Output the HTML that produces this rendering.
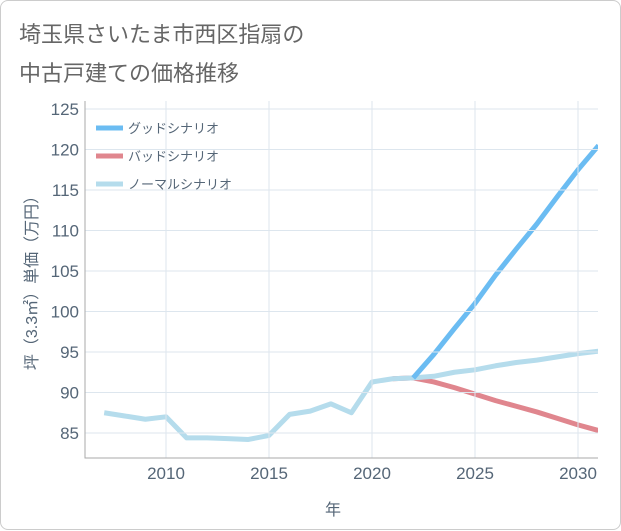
<!DOCTYPE html>
<html><head><meta charset="utf-8"><style>
body{margin:0;background:#fff;font-family:"Liberation Sans","Noto Sans CJK JP",sans-serif}
#card{position:absolute;left:0;top:0;width:619px;height:528px;border:1px solid #ccc;border-radius:8px;background:#fff}
#title{position:absolute;left:18px;top:14px;font-size:22px;line-height:39px;color:#666}
</style></head><body>
<div id="card">
<div id="title">埼玉県さいたま市西区指扇の<br>中古戸建ての価格推移</div>
<svg id="chart" width="621" height="530" style="position:absolute;left:0;top:0"></svg>
</div>
<script>
const years=[2007,2008,2009,2010,2011,2012,2013,2014,2015,2016,2017,2018,2019,2020,2021,2022,2023,2024,2025,2026,2027,2028,2029,2030,2031];
const normal=[87.5,87.1,86.7,87.0,84.4,84.4,84.3,84.2,84.7,87.3,87.7,88.6,87.5,91.3,91.7,91.8,92.0,92.5,92.8,93.3,93.7,94.0,94.4,94.8,95.1];
const goodYears=[2022,2023,2024,2025,2026,2027,2028,2029,2030,2031];
const good=[91.8,94.7,97.9,101.0,104.5,107.7,110.8,114.2,117.5,120.5];
const badYears=[2021,2022,2023,2024,2025,2026,2027,2028,2029,2030,2031];
const bad=[91.7,91.8,91.3,90.6,89.8,89.0,88.3,87.6,86.8,86.0,85.3];
const yTicks=[85,90,95,100,105,110,115,120,125];
const xTicks=[2010,2015,2020,2025,2030];
const legendLabels=['グッドシナリオ','バッドシナリオ','ノーマルシナリオ'];
const colors=['#6bbcf2','#e0868e','#b5dcec'];
const L=84,R=597,T=100,B=457;
const x=v=>165+(v-2010)*20.6;
const y=v=>432-(v-85)*8.1;
const svg=document.getElementById('chart');
const NS='http://www.w3.org/2000/svg';
function mk(t,a,p){const e=document.createElementNS(NS,t);for(const k in a)e.setAttribute(k,a[k]);(p||svg).appendChild(e);return e;}
const plot=mk('g',{'clip-path':'url(#cp)'});
const cp=mk('clipPath',{id:'cp'});mk('rect',{x:L,y:T,width:R-L,height:B-T},cp);
for(const t of yTicks){
 const l=mk('line',{x1:L,x2:R,y1:y(t),y2:y(t),stroke:'#dde6ee','stroke-width':1});
 
 
 const tx=mk('text',{x:78,y:y(t)+6,'text-anchor':'end','font-size':17,fill:'#567'});tx.textContent=t;
 
 
}
for(const t of xTicks){
 const l=mk('line',{x1:x(t),x2:x(t),y1:T,y2:B,stroke:'#dde6ee','stroke-width':1});
 
 
 const tx=mk('text',{x:x(t),y:478,'text-anchor':'middle','font-size':17,fill:'#567'});tx.textContent=t;
 
 
}
const ax=mk('path',{d:`M${L},${T}V${B}H${R}`,fill:'none',stroke:'#aaa','stroke-width':1});


function line(xs,vs,c,name){
 const p=mk('polyline',{points:xs.map((v,i)=>x(v)+','+y(vs[i])).join(' '),fill:'none',stroke:c,'stroke-width':5,'stroke-linejoin':'round'},plot);
 
 
}
line(badYears,bad,colors[1],'bad-scenario-line');
line(years,normal,colors[2],'normal-scenario-line');
line(goodYears,good,colors[0],'good-scenario-line');
legendLabels.forEach((s,i)=>{
 const g=mk('g',{});
 
 
 mk('line',{x1:95,x2:122,y1:127+i*28,y2:127+i*28,stroke:colors[i],'stroke-width':5},g);
 const t=mk('text',{x:127,y:132+i*28,'font-size':13,fill:'#567'},g);t.textContent=s;
});
const yl=mk('text',{transform:'translate(36,278) rotate(-90)','text-anchor':'middle','font-size':16,fill:'#567'});
yl.textContent='坪（3.3㎡）単価（万円）';


const xl=mk('text',{x:332,y:514,'text-anchor':'middle','font-size':16,fill:'#567'});
xl.textContent='年';


</script>
</body></html>
